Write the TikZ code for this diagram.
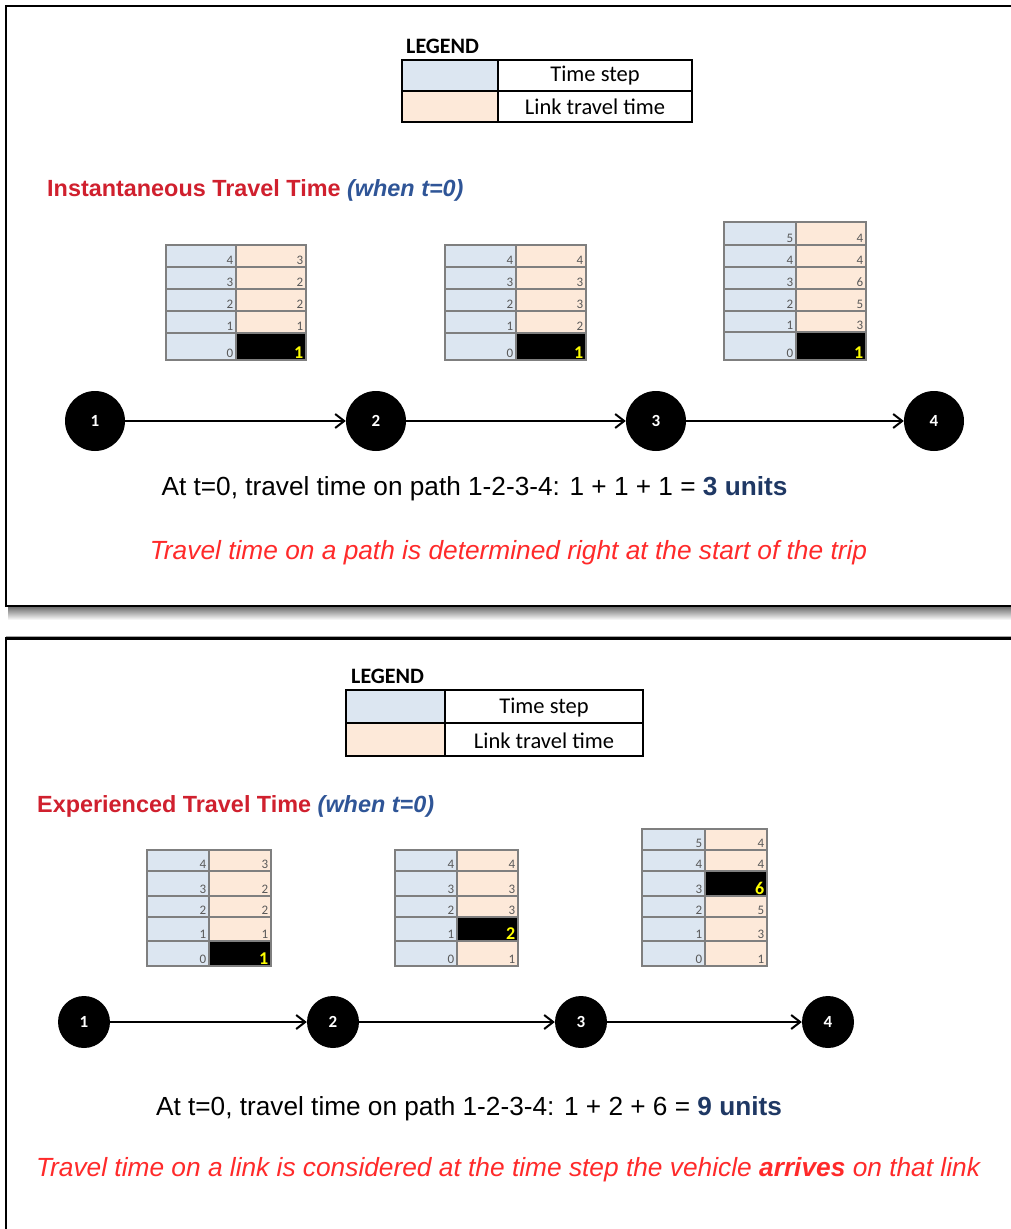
\documentclass[tikz,border=0pt]{standalone}
\usepackage{fontspec}
\setmainfont{Liberation Sans}
\newfontfamily\calfont{Carlito}
\usetikzlibrary{arrows.meta}

\definecolor{stepblue}{HTML}{DCE6F1}
\definecolor{linkpeach}{HTML}{FDE9D9}
\definecolor{titlered}{HTML}{D0202E}
\definecolor{whenblue}{HTML}{2F5597}
\definecolor{unitnavy}{HTML}{1F3864}
\definecolor{notered}{HTML}{FF2A2A}
\definecolor{cellgrid}{HTML}{7F7F7F}
\definecolor{numgray}{HTML}{595959}
\definecolor{hiyellow}{HTML}{FFFF00}

\tikzset{
  frame/.style={line width=2.5pt},
  grid/.style={draw=cellgrid, line width=1.3pt},
  legendgrid/.style={draw=black, line width=1.3pt},
  num/.style={inner sep=1pt, font=\calfont\fontsize{13}{13}\selectfont, text=numgray},
  hinum/.style={inner sep=1pt, font=\calfont\bfseries\fontsize{18}{18}\selectfont, text=hiyellow},
  vtx/.style={circle, fill=black, inner sep=0pt, text=white, font=\calfont\bfseries\fontsize{17}{17}\selectfont},
  arr/.style={line width=2pt, -{Straight Barb[length=9pt,width=14pt,line width=2pt]}},
  legendhead/.style={anchor=west, inner sep=0pt, font=\calfont\bfseries\fontsize{22}{22}\selectfont},
  legendtext/.style={inner sep=0pt, font=\calfont\fontsize{22.5}{22.5}\selectfont},
  heading/.style={anchor=west, inner sep=0pt, font=\bfseries\fontsize{23.4}{23.4}\selectfont},
  summary/.style={inner sep=0pt, font=\fontsize{26.2}{26.2}\selectfont},
  note/.style={inner sep=0pt, text=notered, font=\itshape\fontsize{26.3}{26.3}\selectfont},
}

% one row of a time-step / link-travel-time table
% #1 name, #2 left x, #3 split x, #4 right x, #5 top y, #6 bottom y, #7 step, #8 travel time
\newcommand\tabrow[8]{%
  \fill[stepblue] (#2,#5) rectangle (#3,#6);
  \fill[linkpeach] (#3,#5) rectangle (#4,#6);
  \draw[grid] (#2,#5) rectangle (#4,#6) (#3,#5) -- (#3,#6);
  \node[num, anchor=south east] (#1s) at (#3-1.5,#6-1) {#7};
  \node[num, anchor=south east] (#1l) at (#4-1.5,#6-1) {#8};
}
% same row with the travel time in force picked out
\newcommand\tabrowhi[8]{%
  \fill[stepblue] (#2,#5) rectangle (#3,#6);
  \fill[black] (#3,#5) rectangle (#4,#6);
  \draw[grid] (#2,#5) rectangle (#4,#6) (#3,#5) -- (#3,#6);
  \node[num, anchor=south east] (#1s) at (#3-1.5,#6-1) {#7};
  \node[hinum, anchor=south east] (#1l) at (#4-1.5,#6) {#8};
}

\begin{document}
\begin{tikzpicture}[x=1pt, y=-1pt]
\useasboundingbox (0,0) rectangle (1010,1229);
\fill[white] (0,0) rectangle (1010,1229);

% ---------------- panel frames ----------------
\shade[top color=black!60, bottom color=white] (8,606) rectangle (1012,620);
\draw[frame] (1020,6) -- (6,6) -- (6,606) -- (1020,606);
\draw[black!35, line width=0.8pt] (6,636) -- (1020,636);
\draw[frame] (1020,638.5) -- (6,638.5) -- (6,1240);

% ================= Instantaneous travel time =================
\node[legendhead] (lg1) at (406,46) {LEGEND};
\fill[stepblue] (402,60) rectangle (498,91);
\fill[linkpeach] (402,91) rectangle (498,122);
\draw[legendgrid] (402,60) rectangle (692,122) (498,60) -- (498,122) (402,91) -- (692,91);
\node[legendtext] (lg1a) at (595,76) {Time step};
\node[legendtext] (lg1b) at (595,107) {Link travel time};

\node[heading] (h1) at (47,190) {\textcolor{titlered}{Instantaneous Travel Time} \textcolor{whenblue}{\itshape(when t=0)}};

% link 1-2
\tabrow{a4}{166}{236}{306}{245}{267}{4}{3}
\tabrow{a3}{166}{236}{306}{267}{289}{3}{2}
\tabrow{a2}{166}{236}{306}{289}{311}{2}{2}
\tabrow{a1}{166}{236}{306}{311}{333}{1}{1}
\tabrowhi{a0}{166}{236}{306}{333}{360}{0}{1}
% link 2-3
\tabrow{b4}{445}{516}{586}{245}{267}{4}{4}
\tabrow{b3}{445}{516}{586}{267}{289}{3}{3}
\tabrow{b2}{445}{516}{586}{289}{311}{2}{3}
\tabrow{b1}{445}{516}{586}{311}{333}{1}{2}
\tabrowhi{b0}{445}{516}{586}{333}{360}{0}{1}
% link 3-4
\tabrow{c5}{724}{796}{866}{222}{245}{5}{4}
\tabrow{c4}{724}{796}{866}{245}{267}{4}{4}
\tabrow{c3}{724}{796}{866}{267}{289}{3}{6}
\tabrow{c2}{724}{796}{866}{289}{311}{2}{5}
\tabrow{c1}{724}{796}{866}{311}{332}{1}{3}
\tabrowhi{c0}{724}{796}{866}{332}{360}{0}{1}

\node[vtx, minimum size=60pt] (n1) at (95,421) {1};
\node[vtx, minimum size=60pt] (n2) at (376,421) {2};
\node[vtx, minimum size=60pt] (n3) at (656,421) {3};
\node[vtx, minimum size=60pt] (n4) at (934,421) {4};
\draw[arr] (n1) -- (n2);
\draw[arr] (n2) -- (n3);
\draw[arr] (n3) -- (n4);

\node[summary] (s1) at (474.5,489) {At t=0, travel time on path 1-2-3-4: 1 + 1 + 1 = \textcolor{unitnavy}{\bfseries 3 units}};
\node[note] (r1) at (508.5,553) {Travel time on a path is determined right at the start of the trip};

% ================= Experienced travel time =================
\node[legendhead] (lg2) at (351,676) {LEGEND};
\fill[stepblue] (346,690) rectangle (445,723);
\fill[linkpeach] (346,723) rectangle (445,756);
\draw[legendgrid] (346,690) rectangle (643,756) (445,690) -- (445,756) (346,723) -- (643,723);
\node[legendtext] (lg2a) at (544,708) {Time step};
\node[legendtext] (lg2b) at (544,741) {Link travel time};

\node[heading] (h2) at (37,806) {\textcolor{titlered}{Experienced Travel Time} \textcolor{whenblue}{\itshape(when t=0)}};

% link 1-2
\tabrow{d4}{147}{209}{271}{850}{871}{4}{3}
\tabrow{d3}{147}{209}{271}{871}{896}{3}{2}
\tabrow{d2}{147}{209}{271}{896}{917}{2}{2}
\tabrow{d1}{147}{209}{271}{917}{941}{1}{1}
\tabrowhi{d0}{147}{209}{271}{941}{966}{0}{1}
% link 2-3
\tabrow{e4}{395}{457}{518}{850}{871}{4}{4}
\tabrow{e3}{395}{457}{518}{871}{896}{3}{3}
\tabrow{e2}{395}{457}{518}{896}{917}{2}{3}
\tabrowhi{e1}{395}{457}{518}{917}{941}{1}{2}
\tabrow{e0}{395}{457}{518}{941}{966}{0}{1}
% link 3-4
\tabrow{f5}{642}{705}{767}{829}{850}{5}{4}
\tabrow{f4}{642}{705}{767}{850}{871}{4}{4}
\tabrowhi{f3}{642}{705}{767}{871}{896}{3}{6}
\tabrow{f2}{642}{705}{767}{896}{917}{2}{5}
\tabrow{f1}{642}{705}{767}{917}{941}{1}{3}
\tabrow{f0}{642}{705}{767}{941}{966}{0}{1}

\node[vtx, minimum size=52pt] (m1) at (84,1022) {1};
\node[vtx, minimum size=52pt] (m2) at (333,1022) {2};
\node[vtx, minimum size=52pt] (m3) at (581,1022) {3};
\node[vtx, minimum size=52pt] (m4) at (828,1022) {4};
\draw[arr] (m1) -- (m2);
\draw[arr] (m2) -- (m3);
\draw[arr] (m3) -- (m4);

\node[summary] (s2) at (469,1109) {At t=0, travel time on path 1-2-3-4: 1 + 2 + 6 = \textcolor{unitnavy}{\bfseries 9 units}};
\node[note] (r2) at (508,1170) {Travel time on a link is considered at the time step the vehicle \textbf{arrives} on that link};
\end{tikzpicture}
\end{document}
